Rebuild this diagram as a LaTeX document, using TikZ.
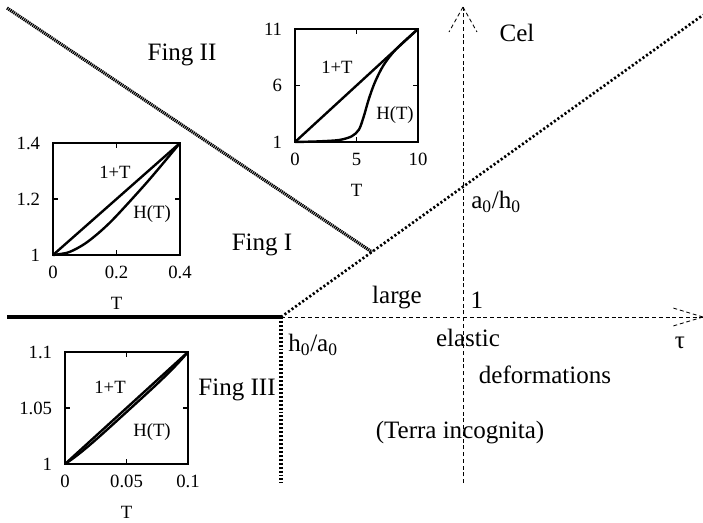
\documentclass[tikz,border=0pt]{standalone}
\usepackage{fontspec}
\setmainfont{Liberation Serif}
\usetikzlibrary{positioning}

\begin{document}
\begin{tikzpicture}[x=0.025cm,y=-0.025cm,
  region/.style={font=\fontsize{17.8}{20}\selectfont,inner sep=0pt},
  lbl/.style={font=\fontsize{13.3}{15}\selectfont,inner sep=0pt},
  frame/.style={line width=1.2pt},
  curve/.style={line width=1.7pt,line join=round},
  tick/.style={line width=0.9pt},
  axis/.style={line width=0.6pt,dash pattern=on 2.8pt off 2pt},
  border/.style={line width=2.2pt},
  cutoff/.style={line width=2.2pt,dash pattern=on 1.4pt off 1.4pt},
  crossover/.style={line width=1.9pt,dash pattern=on 1.5pt off 1.6pt},
  fingline/.style={line width=2.3pt,dash pattern=on 0.9pt off 0.55pt},
]
\useasboundingbox (0,0) rectangle (703,522);

\coordinate (crit) at (281,317);
\coordinate (west) at (7,317);
\coordinate (south) at (281,483);
\coordinate (northeast) at (703,15);
\coordinate (nw) at (7,8);
\coordinate (meet) at (372,252);
\coordinate (tautip) at (703,317);
\coordinate (vbot) at (463,483);
\coordinate (vtip) at (463,7);

% axes
\draw[axis] (crit) -- (tautip);
\draw[axis] (tautip) -- ++(-30,-9) (tautip) -- ++(-30,9);
\draw[axis] (vbot) -- (vtip);
\draw[axis] (vtip) -- ++(-14,25) (vtip) -- ++(14,25);

% phase boundaries
\draw[border] (west) -- (crit);
\draw[cutoff] (crit) -- (south);
\draw[crossover] (crit) -- (northeast);
\draw[fingline] (nw) -- (meet);

\node[region] (cel) at (517,33) {Cel};
\node[region] (fing2) at (182,55) {Fing II};
\node[region] (fing1) at (262,245) {Fing I};
\node[region] (fing3) at (237,390) {Fing III};
\node[region] (large) at (397,298) {large};
\node[region] (one) at (477,300) {1};
\node[region,anchor=west] (a0h0) at (471,202) {a\textsubscript{0}/h\textsubscript{0}};
\node[region,anchor=west] (h0a0) at (288,345) {h\textsubscript{0}/a\textsubscript{0}};
\node[region] (elastic) at (468,338) {elastic};
\node[region] (deform) at (545,375) {deformations};
\node[region] (terra) at (460,433) {(Terra incognita)};
\node[region] (tau) at (680,343) {τ};

% inset 0 < T < 0.4
\begin{scope}[shift={(53,255)},x=7.9375cm,y=7cm,yshift=-7cm]
  \draw[frame] (0,1) rectangle (0.4,1.4);
  \draw[tick] (0.2,1) -- ++(0pt,3.5pt) (0.2,1.4) -- ++(0pt,-3.5pt)
              (0,1.2) -- ++(3.5pt,0pt) (0.4,1.2) -- ++(-3.5pt,0pt);
  \draw[curve] (0,1) -- (0.4,1.4);
  \draw[curve] plot[smooth] coordinates {(0,1) (0.05,1.01) (0.1,1.04) (0.15,1.085) (0.2,1.14) (0.3,1.265) (0.4,1.4)};
  \node[lbl,left=9pt] (ya1) at (0,1) {1};
  \node[lbl,left=9pt] (ya2) at (0,1.2) {1.2};
  \node[lbl,left=9pt] (ya3) at (0,1.4) {1.4};
  \node[lbl,below=8pt] (xa1) at (0,1) {0};
  \node[lbl,below=8pt] (xa2) at (0.2,1) {0.2};
  \node[lbl,below=8pt] (xa3) at (0.4,1) {0.4};
  \node[lbl,below=30pt] (ta) at (0.2,1) {T};
  \node[lbl] (la) at (0.195,1.296) {1+T};
  \node[lbl] (ha) at (0.312,1.146) {H(T)};
\end{scope}

% inset 0 < T < 10
\begin{scope}[shift={(295,142)},x=0.3075cm,y=0.2825cm,yshift=-0.2825cm]
  \draw[frame] (0,1) rectangle (10,11);
  \draw[tick] (5,1) -- ++(0pt,3.5pt) (5,11) -- ++(0pt,-3.5pt)
              (0,6) -- ++(3.5pt,0pt) (10,6) -- ++(-3.5pt,0pt);
  \draw[curve] (0,1) -- (10,11);
  \draw[curve] plot[smooth] coordinates {(0,1) (2,1.06) (3.6,1.18) (4.6,1.5) (5.2,2.1) (5.6,3.3) (6.0,4.8) (6.5,6.3) (7.2,7.8) (8.2,9.2) (10,11)};
  \node[lbl,left=9pt] (yb1) at (0,1) {1};
  \node[lbl,left=9pt] (yb2) at (0,6) {6};
  \node[lbl,left=9pt] (yb3) at (0,11) {11};
  \node[lbl,below=8pt] (xb1) at (0,1) {0};
  \node[lbl,below=8pt] (xb2) at (5,1) {5};
  \node[lbl,below=8pt] (xb3) at (10,1) {10};
  \node[lbl,below=30pt] (tb) at (5,1) {T};
  \node[lbl] (lb) at (3.41,7.64) {1+T};
  \node[lbl] (hb) at (8.13,3.39) {H(T)};
\end{scope}

% inset 0 < T < 0.1
\begin{scope}[shift={(65,464)},x=30.75cm,y=28cm,yshift=-28cm]
  \draw[frame] (0,1) rectangle (0.1,1.1);
  \draw[tick] (0.05,1) -- ++(0pt,3.5pt) (0.05,1.1) -- ++(0pt,-3.5pt)
              (0,1.05) -- ++(3.5pt,0pt) (0.1,1.05) -- ++(-3.5pt,0pt);
  \draw[curve] (0,1) -- (0.1,1.1);
  \draw[curve] plot[domain=0:0.1,samples=40] (\x,{1+\x-0.0036*(1-(20*\x-1)^4)});
  \node[lbl,left=9pt] (yc1) at (0,1) {1};
  \node[lbl,left=9pt] (yc2) at (0,1.05) {1.05};
  \node[lbl,left=9pt] (yc3) at (0,1.1) {1.1};
  \node[lbl,below=8pt] (xc1) at (0,1) {0};
  \node[lbl,below=8pt] (xc2) at (0.05,1) {0.05};
  \node[lbl,below=8pt] (xc3) at (0.1,1) {0.1};
  \node[lbl,below=30pt] (tc) at (0.05,1) {T};
  \node[lbl] (lc) at (0.0366,1.0688) {1+T};
  \node[lbl] (hc) at (0.0707,1.0286) {H(T)};
\end{scope}
\end{tikzpicture}
\end{document}
